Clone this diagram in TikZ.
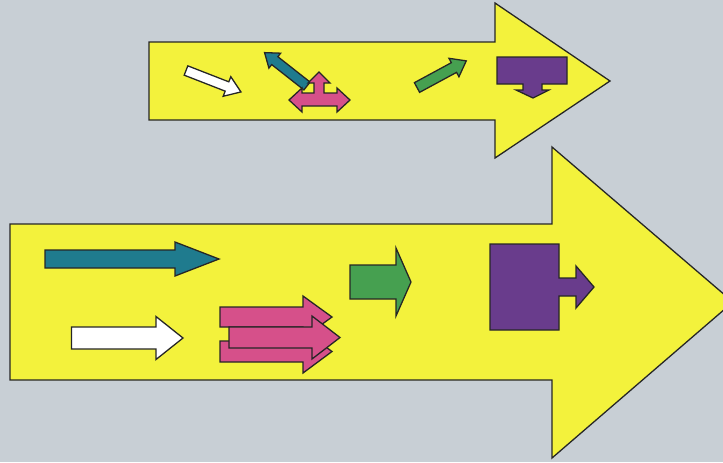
\documentclass[tikz,border=0pt]{standalone}
\usepackage{tikz}
\usepackage{xcolor}
\usetikzlibrary{calc}
\definecolor{backdrop}{HTML}{C8CFD5}
\definecolor{lemon}{HTML}{F3F23C}
\definecolor{arrteal}{HTML}{1F7B8E}
\definecolor{arrpink}{HTML}{D6508A}
\definecolor{arrgreen}{HTML}{46A050}
\definecolor{arrpurple}{HTML}{693C8C}
% block arrow: fill, tail, angle, length, shaft width, head width, head length
\newcommand{\blockarrow}[7]{%
  \filldraw[fill=#1,outline,shift={#2},rotate=#3]
    (0,-#5/2) -- ({#4-#7},-#5/2) -- ({#4-#7},-#6/2) -- (#4,0) --
    ({#4-#7},#6/2) -- ({#4-#7},#5/2) -- (0,#5/2) -- cycle;}

\begin{document}
\begin{tikzpicture}[x=0.03cm,y=-0.03cm,outline/.style={draw=black!85,line width=1.1pt,line join=miter}]
      % frame and background
      \useasboundingbox (0,0) rectangle (723,462);
      \fill[backdrop] (0,0) rectangle (723,462);
      \clip (0,0) rectangle (723,462);
      % small yellow arrow
      \filldraw[fill=lemon,outline]
        (149,42) -- (495,42) -- (495,3) -- (610,81) --
        (495,158) -- (495,120) -- (149,120) -- cycle;
      % large yellow arrow
      \filldraw[fill=lemon,outline]
        (10,224) -- (552,224) -- (552,147) -- (733,302) --
        (552,458) -- (552,380) -- (10,380) -- cycle;
      % small arrow contents
      \blockarrow{white}{(186,70.5)}{-21.3}{59}{10}{21}{15}
      \blockarrow{arrteal}{(307,86)}{141.8}{54}{10}{19}{13}
      \filldraw[fill=arrpink,outline]
        (289,100) -- (302,88) -- (302,93) -- (314,93) -- (314,83) --
        (308,83) -- (319,72) -- (330,83) -- (324,83) -- (324,93) --
        (337,93) -- (337,88) -- (350,100) -- (337,112) -- (337,106) --
        (302,106) -- (302,112) -- cycle;
      \blockarrow{arrgreen}{(417,87.5)}{28.4}{56}{11}{21}{14}
      \filldraw[fill=arrpurple,outline]
        (497,57) -- (567,57) -- (567,84) -- (542,84) -- (542,90) --
        (549,90) -- (533,98) -- (516,90) -- (523,90) -- (523,84) --
        (497,84) -- cycle;
      % large arrow contents
      \blockarrow{arrteal}{(45,259)}{0}{174}{18}{34}{44}
      \blockarrow{white}{(71.5,338)}{0}{111.5}{22}{43}{27}
      \blockarrow{arrpink}{(220,317)}{0}{112}{20}{42}{29}
      \blockarrow{arrpink}{(220,351.5)}{0}{112}{21}{43}{29}
      \blockarrow{arrpink}{(229,337.5)}{0}{111}{21}{43}{28}
      \blockarrow{arrgreen}{(350,282)}{0}{61}{34}{68}{15}
      \filldraw[fill=arrpurple,outline]
        (490,244) -- (559,244) -- (559,278) -- (576,278) -- (576,266) --
        (594,287) -- (576,308) -- (576,296) -- (559,296) -- (559,330) --
        (490,330) -- cycle;
    \end{tikzpicture}
\end{document}
